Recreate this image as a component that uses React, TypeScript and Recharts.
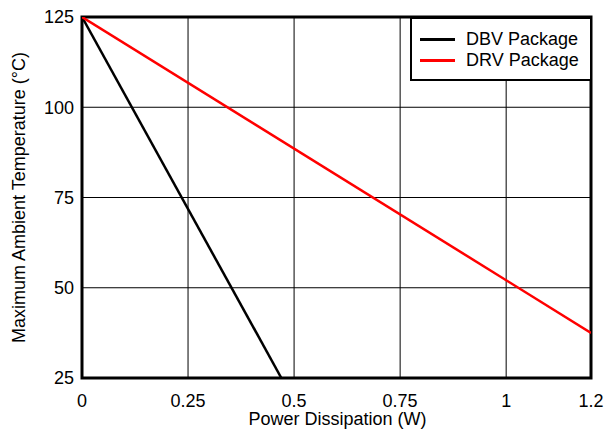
import React from 'react';
import { LineChart, Line, XAxis, YAxis, CartesianGrid, Label, ReferenceArea } from 'recharts';

const dbvPower = [0, 0.47];
const dbvTemp = [125, 25];
const drvPower = [0, 1.2];
const drvTemp = [125, 37.5];

const xTicks = [0, 0.25, 0.5, 0.75, 1, 1.2];
const yTicks = [25, 50, 75, 100, 125];

const series = [
  { name: 'DBV Package', color: '#000000', power: dbvPower, temp: dbvTemp },
  { name: 'DRV Package', color: '#ff0000', power: drvPower, temp: drvTemp },
];

const FONT = '"Liberation Sans", Arial, sans-serif';
const FS = 18;

const LegendBox = () => (
  <div
    style={{
      position: 'absolute',
      left: 410,
      top: 17,
      width: 182,
      height: 64,
      boxSizing: 'border-box',
      border: '2px solid #000',
      background: '#fff',
      fontFamily: FONT,
      fontSize: FS,
      paddingTop: 10,
    }}
  >
    {series.map((s) => (
      <div key={s.name} style={{ display: 'flex', alignItems: 'center', height: 21 }}>
        <span style={{ display: 'inline-block', width: 35, height: 3, background: s.color, marginLeft: 8, marginRight: 11 }} />
        <span>{s.name}</span>
      </div>
    ))}
  </div>
);

const YTitle = (props: any) => {
  const vb = props.viewBox || {};
  const cx = 19;
  const cy = (vb.y || 17) + (vb.height || 361) / 2;
  return (
    <text
      x={cx}
      y={cy}
      transform={`rotate(-90 ${cx} ${cy})`}
      textAnchor="middle"
      dominantBaseline="central"
      fill="#000"
      fontSize={FS}
      fontFamily={FONT}
    >
      Maximum Ambient Temperature (°C)
    </text>
  );
};

const XTitle = (props: any) => {
  const vb = props.viewBox || {};
  const cx = (vb.x || 82) + (vb.width || 509) / 2 + 1;
  return (
    <text x={cx} y={425} textAnchor="middle" fill="#000" fontSize={FS} fontFamily={FONT}>
      Power Dissipation (W)
    </text>
  );
};

export default function App() {
  return (
    <div style={{ position: 'absolute', left: 0, top: 0, width: 605, height: 429, background: '#fff' }}>
      <LineChart width={605} height={429} margin={{ top: 17, right: 14, left: 0, bottom: 0 }}>
        <CartesianGrid stroke="#000" strokeWidth={1} />
        <XAxis
          type="number"
          dataKey="x"
          domain={[0, 1.2]}
          ticks={xTicks}
          height={51}
          axisLine={false}
          tickLine={false}
          tickSize={0}
          tickMargin={16}
          tick={{ fill: '#000', fontSize: FS, fontFamily: FONT }}
          allowDataOverflow
        >
          <Label content={<XTitle />} />
        </XAxis>
        <YAxis
          type="number"
          domain={[25, 125]}
          ticks={yTicks}
          width={82}
          axisLine={false}
          tickLine={false}
          tickSize={0}
          tickMargin={8}
          tick={{ fill: '#000', fontSize: FS, fontFamily: FONT }}
          allowDataOverflow
        >
          <Label content={<YTitle />} />
        </YAxis>
        {series.map((s) => (
          <Line
            key={s.name}
            name={s.name}
            data={s.power.map((p, i) => ({ x: p, y: s.temp[i] }))}
            dataKey="y"
            stroke={s.color}
            strokeWidth={2.5}
            dot={false}
            isAnimationActive={false}
          />
        ))}
        <ReferenceArea x1={0} x2={1.2} y1={25} y2={125} fill="none" stroke="#000" strokeWidth={3} />
      </LineChart>
      <LegendBox />
    </div>
  );
}
